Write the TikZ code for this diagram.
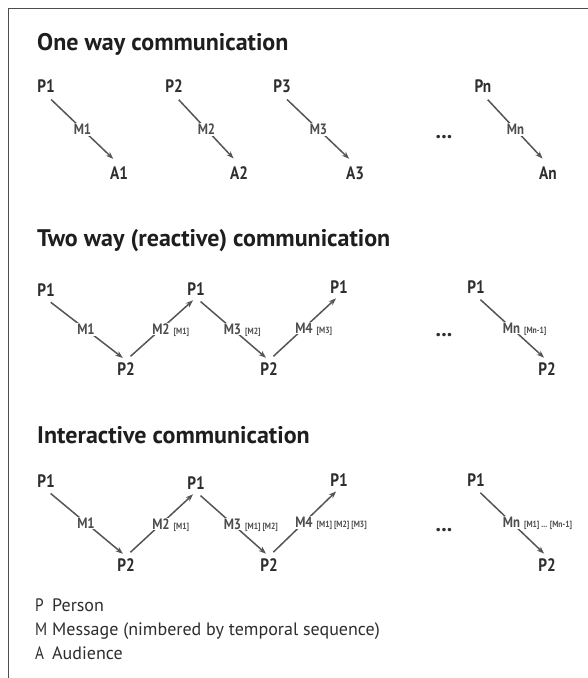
\documentclass[tikz,border=0pt]{standalone}
\usepackage{fontspec}
\setmainfont{PT Sans}
\newfontfamily\condfont[FakeStretch=0.85]{PT Sans}
\usepackage{tikz}
\usetikzlibrary{arrows.meta, positioning}
\definecolor{commInk}{HTML}{2E2E2E}
\definecolor{commHead}{HTML}{1E1E1E}
\definecolor{commLine}{HTML}{555555}
\definecolor{commFrame}{HTML}{4D4D4D}

\begin{document}
\begin{tikzpicture}[
  x=1pt, y=-1pt,
  >={Stealth[length=7.5pt, width=5.5pt]},
  msg/.style={->, line width=1.5pt, draw=commLine, shorten <=6pt, shorten >=4pt},
  party/.style={font=\condfont\fontsize{18}{18}\selectfont\bfseries, text=commInk, inner sep=2pt},
  mlabel/.style={font=\condfont\fontsize{15}{15}\selectfont\bfseries, text=commInk!85, fill=white, inner sep=1pt},
  subnote/.style={font=\condfont\fontsize{9}{9}\selectfont\bfseries, text=commInk!85, inner sep=0pt},
  heading/.style={font=\fontsize{24}{24}\selectfont\bfseries, text=commHead, anchor=base west, inner sep=0pt},
  keytext/.style={font=\fontsize{18}{18}\selectfont, text=commInk, anchor=base west, inner sep=0pt},
  keyletter/.style={keytext, font=\condfont\fontsize{18}{18}\selectfont},
  ellip/.style={font=\fontsize{22}{22}\selectfont\bfseries, text=commInk, inner sep=0pt}
]

  \useasboundingbox (0,0) rectangle (588,678);
  \fill[white] (0,0) rectangle (588,678);
  \draw[commFrame, line width=1.5pt] (8.5,678) -- (8.5,8.5) -- (588,8.5);

  \node[heading] (head-one) at (37,50) {One way communication};
  \node[heading] (head-two) at (37,246) {Two way (reactive) communication};
  \node[heading] (head-int) at (37,443) {Interactive communication};

  \foreach \i/\px/\ax in {1/46/119, 2/174/239, 3/282/355, n/483/548} {
    \node[party] (ow-p\i) at (\px,86) {P\i};
    \node[party] (ow-a\i) at (\ax,173) {A\i};
    \draw[msg, shorten <=7pt, shorten >=8pt] (ow-p\i.south) -- node[mlabel] (ow-m\i) {M\i} (ow-a\i.north);
  }
  \node[ellip] (ow-dots) at (444,137) {...};

  \node[party] (tw-t1) at (46,290) {P1};
  \node[party] (tw-t2) at (196,289) {P1};
  \node[party] (tw-t3) at (339,287) {P1};
  \node[party] (tw-t4) at (476,287) {P1};
  \node[party] (tw-b1) at (126,369) {P2};
  \node[party] (tw-b2) at (269,369) {P2};
  \node[party] (tw-b3) at (547,369) {P2};
  \node[ellip] (tw-dots) at (444,335) {...};

  \draw[msg] (tw-t1.south) -- node[mlabel] (tw-m1) {M1} (tw-b1.north);
  \draw[msg] (tw-b1.north) -- node[mlabel] (tw-m2) {M2} (tw-t2.south);
  \draw[msg] (tw-t2.south) -- node[mlabel] (tw-m3) {M3} (tw-b2.north);
  \draw[msg] (tw-b2.north) -- node[mlabel] (tw-m4) {M4} (tw-t3.south);
  \draw[msg] (tw-t4.south) -- node[mlabel] (tw-mn) {Mn} (tw-b3.north);
  \node[subnote, base right=2pt of tw-m2] (tw-s2) {[M1]};
  \node[subnote, base right=2pt of tw-m3] (tw-s3) {[M2]};
  \node[subnote, base right=2pt of tw-m4] (tw-s4) {[M3]};
  \node[subnote, base right=2pt of tw-mn] (tw-sn) {[Mn-1]};

  \node[party] (ia-t1) at (46,481) {P1};
  \node[party] (ia-t2) at (196,483) {P1};
  \node[party] (ia-t3) at (339,480) {P1};
  \node[party] (ia-t4) at (476,480) {P1};
  \node[party] (ia-b1) at (126,565) {P2};
  \node[party] (ia-b2) at (269,565) {P2};
  \node[party] (ia-b3) at (547,565) {P2};
  \node[ellip] (ia-dots) at (444,530) {...};

  \draw[msg] (ia-t1.south) -- node[mlabel] (ia-m1) {M1} (ia-b1.north);
  \draw[msg] (ia-b1.north) -- node[mlabel] (ia-m2) {M2} (ia-t2.south);
  \draw[msg] (ia-t2.south) -- node[mlabel] (ia-m3) {M3} (ia-b2.north);
  \draw[msg] (ia-b2.north) -- node[mlabel] (ia-m4) {M4} (ia-t3.south);
  \draw[msg] (ia-t4.south) -- node[mlabel] (ia-mn) {Mn} (ia-b3.north);
  \node[subnote, base right=2pt of ia-m2] (ia-s2) {[M1]};
  \node[subnote, base right=2pt of ia-m3] (ia-s3) {[M1] [M2]};
  \node[subnote, base right=2pt of ia-m4] (ia-s4) {[M1] [M2] [M3]};
  \node[subnote, base right=2pt of ia-mn] (ia-sn) {[M1] ... [Mn-1]};

  \node[keyletter] (key-p) at (35,611) {P};
  \node[keytext] (key-p-txt) at (52,611) {Person};
  \node[keyletter] (key-m) at (35,635) {M};
  \node[keytext] (key-m-txt) at (52,635) {Message (nimbered by temporal sequence)};
  \node[keyletter] (key-a) at (35,659) {A};
  \node[keytext] (key-a-txt) at (52,659) {Audience};

\end{tikzpicture}
\end{document}
